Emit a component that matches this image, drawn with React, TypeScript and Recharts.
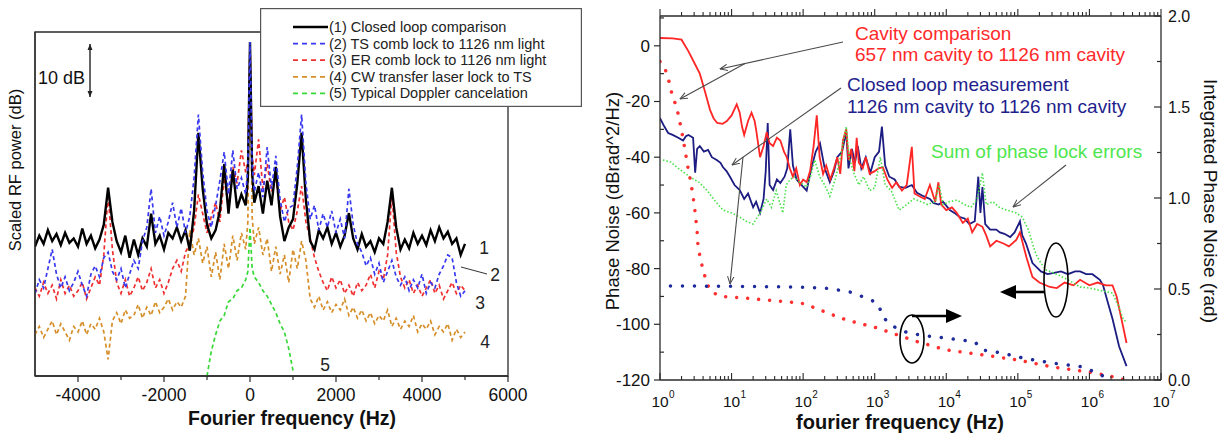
import React from "react";
import { LineChart, Line, XAxis, YAxis, Legend, Label, ReferenceArea } from "recharts";

const FONT = '"Liberation Sans", Arial, Helvetica, sans-serif';
const AXIS = "#2b2b2b";

// ---------- left panel: RF beat spectra (relative dB) ----------
const beatFreq = [
  -5000, -4900, -4800, -4700, -4600, -4500, -4400, -4300, -4200, -4100,
  -4000, -3900, -3800, -3700, -3600, -3500, -3400, -3300, -3200, -3100,
  -3000, -2900, -2800, -2700, -2600, -2500, -2400, -2300, -2200, -2100,
  -2000, -1900, -1800, -1700, -1600, -1500, -1400, -1300, -1200, -1100,
  -1000, -900, -800, -700, -600, -500, -400, -300, -200, -100,
  -50, 0, 50,
  100, 200, 300, 400, 500, 600, 700, 800, 900, 1000,
  1100, 1200, 1300, 1400, 1500, 1600, 1700, 1800, 1900, 2000,
  2100, 2200, 2300, 2400, 2500, 2600, 2700, 2800, 2900, 3000,
  3100, 3200, 3300, 3400, 3500, 3600, 3700, 3800, 3900, 4000,
  4100, 4200, 4300, 4400, 4500, 4600, 4700, 4800, 4900, 5000,
];

const closedLoopDb = [
  23.5, 25.5, 24.0, 26.5, 24.5, 25.8, 23.8, 26.0, 24.2, 25.0,
  23.5, 26.8, 24.0, 25.5, 23.2, 24.8, 27.5, 34.2, 28.0, 24.5,
  22.5, 25.5, 21.5, 24.8, 22.0, 25.0, 23.5, 29.5, 24.0, 25.5,
  23.0, 26.0, 25.0, 27.0, 24.5, 26.5, 22.8, 30.0, 44.2, 34.0,
  27.5, 25.0, 26.5, 30.0, 38.5, 29.5, 37.5, 30.5, 33.0, 31.0,
  36.0, 60.7, 37.0,
  31.5, 34.5, 29.5, 35.5, 31.0, 38.0, 29.0, 24.5, 27.0, 28.5,
  35.0, 44.2, 32.0, 24.5, 23.0, 26.5, 25.0, 27.0, 24.0, 26.0,
  23.5, 25.5, 29.6, 25.0, 23.0, 25.8, 23.5, 24.5, 22.5, 25.0,
  24.0, 28.0, 34.2, 27.0, 23.0, 24.8, 23.2, 26.0, 24.0, 25.5,
  23.8, 26.5, 24.5, 27.0, 25.0, 26.2, 24.0, 25.0, 22.0, 24.0,
];

const tsCombDb = [
  15.0, 17.5, 16.0, 19.5, 23.0, 18.5, 16.0, 18.0, 15.5, 17.0,
  19.0, 16.5, 14.5, 18.5, 20.0, 18.0, 21.5, 22.5, 19.0, 17.5,
  19.5, 16.0, 18.5, 21.0, 19.5, 24.5, 27.0, 34.0, 26.0, 29.0,
  25.5, 28.0, 31.5, 27.0, 30.5, 26.0, 29.0, 36.0, 47.5, 37.0,
  30.0, 27.0, 31.0, 35.5, 40.7, 33.0, 41.0, 34.0, 36.0, 33.0,
  38.0, 60.7, 38.5,
  33.5, 37.0, 32.5, 41.6, 34.0, 40.0, 32.0, 28.0, 30.5, 31.0,
  38.0, 47.5, 35.0, 28.5, 31.0, 26.5, 29.5, 27.0, 30.0, 26.0,
  28.5, 25.0, 34.0, 27.5, 24.0, 22.5, 20.0, 21.5, 18.5, 20.5,
  17.0, 19.0, 21.0, 18.0, 16.5, 18.0, 15.5, 17.5, 16.0, 18.5,
  15.0, 17.0, 16.0, 18.5, 20.0, 22.0, 21.5, 17.0, 14.5, 15.5,
];

const erCombDb = [
  16.0, 14.5, 17.0, 15.0, 16.5, 14.0, 17.5, 15.0, 16.5, 14.5,
  15.5, 17.0, 14.0, 16.0, 18.0, 16.5, 22.0, 33.0, 23.0, 17.0,
  15.0, 17.5, 14.5, 16.0, 18.0, 15.5, 17.0, 19.5, 16.0, 17.5,
  15.0, 17.0, 19.5, 21.0, 19.0, 22.5, 24.0, 27.0, 33.0, 29.5,
  26.0, 29.0, 31.5, 28.0, 36.0, 30.5, 38.0, 35.0, 41.0, 37.0,
  39.0, 60.7, 40.0,
  36.5, 43.0, 34.0, 38.5, 33.5, 36.0, 30.0, 32.5, 28.0, 26.5,
  30.0, 34.5, 28.0, 25.0, 21.5, 19.0, 17.0, 15.5, 18.0, 16.0,
  17.5, 15.0, 16.5, 14.5, 17.0, 15.5, 16.5, 18.5, 16.0, 19.0,
  17.5, 22.0, 33.0, 22.5, 18.0, 16.0, 17.5, 15.0, 16.5, 14.5,
  16.0, 17.5, 15.0, 16.5, 14.0, 15.5, 17.0, 15.0, 16.5, 15.5,
];

const cwTransferDb = [
  7.5, 9.0, 7.0, 8.5, 10.0, 7.5, 9.5, 8.0, 6.5, 9.0,
  8.0, 10.0, 7.5, 9.5, 8.5, 10.5, 8.0, 3.0, 10.0, 11.5,
  9.5, 12.0, 10.5, 11.0, 13.0, 10.5, 12.5, 11.0, 13.5, 11.5,
  12.5, 14.0, 12.0, 13.5, 12.5, 14.5, 26.5, 22.0, 25.0, 20.5,
  23.5, 18.0, 22.5, 17.5, 24.0, 19.5, 25.5, 21.0, 26.0, 23.0,
  28.0, 60.7, 29.0,
  24.0, 27.0, 22.0, 25.0, 19.0, 23.5, 18.5, 22.0, 17.0, 23.0,
  19.5, 24.5, 21.0, 14.0, 12.5, 14.5, 12.0, 13.5, 11.5, 13.0,
  12.0, 14.0, 11.0, 12.5, 10.5, 12.0, 10.0, 11.5, 9.5, 11.0,
  10.0, 12.0, 9.0, 10.5, 8.5, 10.0, 9.0, 11.0, 8.0, 9.5,
  8.5, 10.0, 7.5, 9.0, 8.0, 9.5, 6.5, 8.5, 7.0, 8.0,
];

const dopplerFreq = [
  -1000, -900, -800, -700, -600, -500, -400, -300, -200, -100, -50, 0,
  50, 100, 200, 300, 400, 500, 600, 700, 800, 900, 1000,
];
const dopplerDb = [
  0.0, 4.5, 7.5, 10.0, 11.0, 13.5, 14.0, 15.5, 16.0, 17.5, 19.0, 27.0,
  19.5, 18.0, 17.0, 15.5, 14.5, 13.0, 11.5, 9.5, 8.0, 5.0, 1.0,
];

const beatTicks = [-4000, -3000, -2000, -1000, 0, 1000, 2000, 3000, 4000, 5000, 6000];

const beatSeries = [
  { key: "closed", name: "(1) Closed loop comparison", color: "#000000", dash: undefined, width: 2.4 },
  { key: "ts", name: "(2) TS comb lock to 1126 nm light", color: "#3838f0", dash: "4 3", width: 1.7 },
  { key: "er", name: "(3) ER comb lock to 1126 nm light", color: "#f03030", dash: "4 3", width: 1.7 },
  { key: "cw", name: "(4) CW transfer laser lock to TS", color: "#d68f2a", dash: "4 3", width: 1.7 },
  { key: "doppler", name: "(5) Typical Doppler cancelation", color: "#38d838", dash: "4 3", width: 1.7 },
];

// ---------- right panel: phase noise vs fourier frequency ----------
const cavityFreq = [
  1, 1.5, 2, 2.5, 3, 3.6, 4.2, 5, 5.6, 6.3,
  7.5, 8.6, 10, 11.8, 13, 14, 15, 17, 19, 21,
  22, 25, 28, 31, 34, 38, 43, 48, 54, 59,
  65, 72, 80, 90, 100, 112, 125, 140, 155, 170,
  190, 210, 240, 270, 300, 330, 360, 400, 430, 470,
  520, 560, 600, 680, 750, 850, 1000, 1130, 1300, 1500,
  1750, 2000, 2400, 2800, 3300, 3600, 4200, 5000, 5900, 7000,
  7760, 8500, 1e4, 1.2e4, 1.4e4, 1.7e4, 2e4, 2.3e4, 2.7e4, 3.2e4,
  3.6e4, 4.1e4, 5e4, 6.3e4, 7.5e4, 9.5e4, 1.07e5, 1.2e5, 1.32e5, 1.6e5,
  2e5, 2.8e5, 3.5e5, 4.5e5, 6e5, 7.4e5, 1e6, 1.3e6, 1.7e6, 2.1e6,
  2.4e6, 2.8e6, 3.3e6,
];
const cavityDb = [
  2.8, 2.7, 2.2, -2, -6, -10, -16, -23, -26, -27.7,
  -28, -27, -25, -21, -24, -29, -32, -27, -24, -27,
  -30, -40, -36, -31, -35, -36, -33, -34, -38, -40,
  -44, -47, -44, -50, -48, -49, -45, -36, -25, -40,
  -46, -43, -48, -44, -40, -46, -34, -30, -41, -37,
  -45, -33, -42, -44, -40, -46, -45, -44, -43.6, -48,
  -51, -49, -52, -50, -36.3, -53, -54, -55, -50, -56,
  -49, -57, -59, -58, -60, -63.6, -62, -67, -64, -65,
  -68, -72, -70, -71, -72, -69.7, -67, -72, -76, -83,
  -85, -86.6, -87, -85, -86, -84, -86, -85, -86, -86,
  -90, -98, -106.7,
];

const closedFreq = [
  1, 1.15, 1.3, 1.5, 1.8, 2.1, 2.3, 2.5, 2.9, 3.1,
  3.3, 3.6, 4.1, 4.7, 5.3, 6.2, 7, 7.6, 8.5, 9.5,
  11, 13, 15, 17, 20, 22, 25, 28, 30, 32,
  34, 38, 43, 48, 55, 60, 66, 72, 81, 95,
  112, 130, 150, 172, 200, 236, 270, 300, 350, 400,
  430, 480, 530, 580, 650, 750, 870, 1000, 1150, 1260,
  1400, 1600, 1900, 2200, 2700, 3300, 3900, 4800, 5900, 6600,
  7800, 9000, 1.12e4, 1.3e4, 1.55e4, 1.8e4, 2.1e4, 2.5e4, 2.8e4, 3e4,
  3.2e4, 3.5e4, 4.1e4, 5e4, 5.6e4, 6.5e4, 7.8e4, 9e4, 1.07e5, 1.15e5,
  1.3e5, 1.6e5, 2.1e5, 2.6e5, 3.2e5, 4e5, 5e5, 6.3e5, 7.4e5, 9e5,
  1.1e6, 1.4e6, 1.55e6, 1.8e6, 2.1e6, 2.6e6, 3.3e6,
];
const closedDb = [
  -26, -29, -31.3, -32, -33, -34, -32.5, -32, -33, -45.6,
  -37, -36, -38, -37.4, -40, -41, -42, -43.6, -45, -47,
  -50, -51.8, -55, -53, -58, -56, -60, -55, -45, -27.7,
  -50, -51.8, -48, -49.3, -47, -44, -30, -43, -48, -50,
  -52, -44, -38, -35, -44, -49, -45, -40, -38, -31,
  -44, -37, -42, -36, -44, -40, -45.6, -40, -38, -29,
  -43, -47, -48, -50.7, -51, -50, -52.8, -54, -55, -56.4,
  -57, -56, -59, -60, -61.5, -62, -64, -63, -47, -60,
  -50.7, -64, -66, -66, -67, -67.5, -68.7, -67, -63, -68,
  -71, -78, -81, -82, -81.5, -81, -82, -81, -81, -82,
  -82, -84, -86, -92, -98, -108, -115,
];

const sumFreq = [
  1.1, 1.4, 1.8, 2.6, 3.5, 4.5, 6, 7.6, 10, 13,
  16, 20, 25, 31, 36, 42, 52, 58, 66, 75,
  90, 112, 130, 145, 170, 200, 236, 280, 320, 360,
  400, 440, 500, 600, 700, 850, 1000, 1200, 1400, 1700,
  2200, 2800, 3500, 4500, 5500, 7000, 8000, 9000, 1.1e4, 1.4e4,
  1.8e4, 2.2e4, 2.7e4, 3.2e4, 3.6e4, 4.5e4, 5.5e4, 7e4, 9.5e4, 1.15e5,
  1.4e5, 1.6e5, 1.8e5, 2.1e5, 2.5e5, 3.5e5, 5e5, 7.4e5, 1e6, 1.5e6,
  2.1e6, 2.6e6, 3e6, 3.3e6,
];
const sumDb = [
  -41, -41.7, -44, -47, -49, -51.8, -56, -59, -60, -61.5,
  -63, -64, -60, -55, -58, -52, -60, -50, -48, -47,
  -49, -50.7, -46, -41, -47, -50, -54, -48, -42, -35,
  -29, -40, -45, -50, -47, -52, -51, -40, -50, -52,
  -59, -57, -55, -56, -57, -56, -50, -57, -56, -55.4,
  -57, -58, -55, -45.6, -57, -56, -58, -59, -60, -61.5,
  -66, -71, -75, -78, -80.5, -82, -84, -86.6, -87, -88,
  -88.8, -94, -98.5, -99,
];

const cavityIntFreq = [
  1, 1.15, 1.3, 1.45, 1.6, 1.8, 2, 2.2, 2.4, 2.65,
  2.9, 3.1, 3.3, 3.4, 3.8, 4.3, 5, 6.9, 10, 16,
  30, 60, 100, 160, 250, 400, 700, 1000, 2000, 4000,
  1e4, 3e4, 1e5, 3e5, 1e6, 2e6, 3.2e6,
];
const cavityIntRad = [
  1.75, 1.72, 1.66, 1.58, 1.53, 1.46, 1.37, 1.28, 1.19, 1.1,
  1.01, 0.92, 0.82, 0.73, 0.64, 0.56, 0.49, 0.46, 0.455, 0.45,
  0.44, 0.43, 0.42, 0.39, 0.36, 0.33, 0.305, 0.29, 0.25, 0.21,
  0.165, 0.14, 0.11, 0.072, 0.044, 0.02, 0.0,
];

const closedIntFreq = [
  1.4, 3, 10, 30, 100, 200, 300, 500, 700, 1000,
  1150, 1250, 1500, 2000, 3000, 6000, 1e4, 2.5e4, 3.2e4, 6e4,
  1.2e5, 3e5, 8e5, 1.25e6, 2e6,
];
const closedIntRad = [
  0.516, 0.516, 0.515, 0.513, 0.51, 0.505, 0.495, 0.48, 0.455, 0.43,
  0.41, 0.357, 0.32, 0.285, 0.257, 0.24, 0.23, 0.21, 0.165, 0.148,
  0.12, 0.093, 0.072, 0.04, 0.0,
];

const decadeTicks = [1, 10, 100, 1e3, 1e4, 1e5, 1e6, 1e7];
const logTicks = decadeTicks
  .slice(0, -1)
  .flatMap((d) => [1, 2, 3, 4, 5, 6, 7, 8, 9].map((m) => m * d))
  .concat([1e7]);
const dbTicks = [-120, -110, -100, -90, -80, -70, -60, -50, -40, -30, -20, -10, 0, 10];
const radTicks = [0, 0.25, 0.5, 0.75, 1, 1.25, 1.5, 1.75, 2];

const beatRows = beatFreq.map((f, i) => ({
  f,
  closed: closedLoopDb[i],
  ts: tsCombDb[i],
  er: erCombDb[i],
  cw: cwTransferDb[i],
}));
const dopplerRows = dopplerFreq.map((f, i) => ({ f, doppler: dopplerDb[i] }));

const toRows = (fs: number[], vs: number[]) => fs.map((f, i) => ({ f, v: vs[i] }));
const cavityRows = toRows(cavityFreq, cavityDb);
const closedRows = toRows(closedFreq, closedDb);
const sumRows = toRows(sumFreq, sumDb);
const cavityIntRows = toRows(cavityIntFreq, cavityIntRad);
const closedIntRows = toRows(closedIntFreq, closedIntRad);

const isDecade = (v: number) => {
  const p = Math.log10(v);
  return Math.abs(p - Math.round(p)) < 1e-9;
};

function BeatTick(props: any) {
  const { x, y, payload } = props;
  const v = payload.value;
  const major = v % 2000 === 0;
  return (
    <g>
      <line x1={x} x2={x} y1={y} y2={y + (major ? 6 : 4)} stroke={AXIS} strokeWidth={1.2} />
      {major && (
        <text x={x} y={y + 25} textAnchor="middle" fontSize={17.5} fontFamily={FONT} fill="#111">
          {v}
        </text>
      )}
    </g>
  );
}

function LogTickBottom(props: any) {
  const { x, y, payload } = props;
  const major = isDecade(payload.value);
  const e = Math.round(Math.log10(payload.value));
  return (
    <g>
      <line x1={x} x2={x} y1={y} y2={y - (major ? 7 : 4)} stroke={AXIS} strokeWidth={1.1} />
      {major && (
        <g fontFamily={FONT} fill="#111">
          <text x={x} y={y + 27} textAnchor="middle" fontSize={15.5}>
            10
          </text>
          <text x={x + 9} y={y + 18} fontSize={10}>
            {e}
          </text>
        </g>
      )}
    </g>
  );
}

function LogTickTop(props: any) {
  const { x, y, payload } = props;
  const major = isDecade(payload.value);
  return <line x1={x} x2={x} y1={y} y2={y - (major ? 7 : 4)} stroke={AXIS} strokeWidth={1.1} />;
}

function DbTick(props: any) {
  const { x, y, payload } = props;
  const v = payload.value;
  const major = v % 20 === 0;
  return (
    <g>
      {major ? (
        <line x1={x - 6} x2={x} y1={y} y2={y} stroke={AXIS} strokeWidth={1.2} />
      ) : (
        <line x1={x} x2={x + 4} y1={y} y2={y} stroke={AXIS} strokeWidth={1.2} />
      )}
      {major && (
        <text x={x - 10} y={y + 6} textAnchor="end" fontSize={17} fontFamily={FONT} fill="#111">
          {v}
        </text>
      )}
    </g>
  );
}

function RadTick(props: any) {
  const { x, y, payload } = props;
  const v = payload.value;
  const major = Math.abs(v * 2 - Math.round(v * 2)) < 1e-9;
  return (
    <g>
      <line x1={x - (major ? 7 : 4)} x2={x} y1={y} y2={y} stroke={AXIS} strokeWidth={1.2} />
      {major && (
        <text x={x + 7} y={y + 6} fontSize={16} fontFamily={FONT} fill="#111">
          {v.toFixed(1)}
        </text>
      )}
    </g>
  );
}

// axis caption placed relative to the axis box
const caption =
  (text: string, dx: number, dy: number, opts: { rotate?: number; size: number; bold?: boolean }) =>
  (props: any) => {
    const vb = props.viewBox || { x: 0, y: 0 };
    const cx = vb.x + dx;
    const cy = vb.y + dy;
    return (
      <text
        x={cx}
        y={cy}
        textAnchor="middle"
        dominantBaseline={opts.rotate ? "central" : "auto"}
        transform={opts.rotate ? `rotate(${opts.rotate} ${cx} ${cy})` : undefined}
        fontSize={opts.size}
        fontWeight={opts.bold ? "bold" : "normal"}
        fontFamily={FONT}
        fill="#111"
      >
        {text}
      </text>
    );
  };

function BeatLegend(props: any) {
  const keys = (props.payload || []).map((p: any) => p.dataKey);
  const shown = keys.length ? beatSeries.filter((s) => keys.includes(s.key)) : beatSeries;
  return (
    <svg width={322} height={99} style={{ display: "block" }}>
      <rect x={0.6} y={0.6} width={320.8} height={97.8} fill="#fff" stroke="#555" strokeWidth={1.2} />
      {shown.map((s, i) => {
        const cy = 19 + i * 16.6;
        return (
          <g key={s.key}>
            <line x1={33} x2={68} y1={cy} y2={cy} stroke={s.color} strokeWidth={s.width} strokeDasharray={s.dash ? "5 4" : undefined} />
            <text x={69} y={cy + 5} fontSize={14.5} fontFamily={FONT} fill="#222">
              {s.name}
            </text>
          </g>
        );
      })}
    </svg>
  );
}

function BeatChart() {
  const byKey = Object.fromEntries(beatSeries.map((s) => [s.key, s]));
  const order = ["cw", "er", "closed", "ts"];
  return (
    <LineChart width={600} height={436} data={beatRows} margin={{ top: 32, right: 92, bottom: 0, left: 0 }}>
      <ReferenceArea x1={-5000} x2={6000} y1={0} y2={62.5} fill="none" stroke={AXIS} strokeWidth={1.3} />
      <XAxis
        dataKey="f"
        type="number"
        domain={[-5000, 6000]}
        allowDataOverflow
        ticks={beatTicks}
        interval={0}
        tick={(p: any) => <BeatTick {...p} />}
        tickLine={false}
        tickSize={0}
        tickMargin={0}
        height={60}
        axisLine={{ stroke: AXIS, strokeWidth: 1.3 }}
      >
        <Label content={caption("Fourier frequency (Hz)", 257, 49, { size: 19.5, bold: true })} />
      </XAxis>
      <YAxis domain={[0, 62.5]} allowDataOverflow tick={false} tickLine={false} width={35} axisLine={{ stroke: AXIS, strokeWidth: 1.3 }}>
        <Label content={caption("Scaled RF power (dB)", 15, 138, { size: 16.5, rotate: -90 })} />
      </YAxis>
      {order.map((k) => (
        <Line
          key={k}
          dataKey={k}
          name={byKey[k].name}
          stroke={byKey[k].color}
          strokeWidth={byKey[k].width}
          strokeDasharray={byKey[k].dash}
          dot={false}
          activeDot={false}
          type="linear"
          isAnimationActive={false}
        />
      ))}
      <Line
        data={dopplerRows}
        dataKey="doppler"
        name={byKey.doppler.name}
        stroke={byKey.doppler.color}
        strokeWidth={byKey.doppler.width}
        strokeDasharray={byKey.doppler.dash}
        dot={false}
        activeDot={false}
        type="linear"
        isAnimationActive={false}
      />
      <Legend
        layout="vertical"
        align="center"
        verticalAlign="middle"
        wrapperStyle={{ left: 260, top: 8, width: 322, height: 99 }}
        content={(p: any) => <BeatLegend {...p} />}
      />
    </LineChart>
  );
}

function NoiseChart() {
  const axisLine = { stroke: AXIS, strokeWidth: 1.3 };
  const lineCommon = { dot: false, activeDot: false, type: "linear" as const, isAnimationActive: false, xAxisId: "b", dataKey: "v" };
  return (
    <LineChart width={625} height={436} margin={{ top: 6, right: 0, bottom: 0, left: 0 }}>
      <XAxis
        xAxisId="b"
        dataKey="f"
        type="number"
        scale="log"
        domain={[1, 1e7]}
        allowDataOverflow
        ticks={logTicks}
        interval={0}
        tick={(p: any) => <LogTickBottom {...p} />}
        tickLine={false}
        tickSize={0}
        tickMargin={0}
        height={56}
        axisLine={axisLine}
      >
        <Label content={caption("fourier frequency (Hz)", 240, 49, { size: 20, bold: true })} />
      </XAxis>
      <XAxis
        xAxisId="t"
        orientation="top"
        dataKey="f"
        type="number"
        scale="log"
        domain={[1, 1e7]}
        allowDataOverflow
        ticks={logTicks}
        interval={0}
        tick={(p: any) => <LogTickTop {...p} />}
        tickLine={false}
        tickSize={0}
        tickMargin={0}
        height={10}
        axisLine={axisLine}
      />
      <YAxis
        yAxisId="L"
        domain={[-120, 10.7]}
        allowDataOverflow
        ticks={dbTicks}
        interval={0}
        tick={(p: any) => <DbTick {...p} />}
        tickLine={false}
        tickSize={0}
        tickMargin={0}
        width={60}
        axisLine={axisLine}
      >
        <Label content={caption("Phase Noise (dBrad^2/Hz)", 12, 185, { size: 18.5, rotate: -90 })} />
      </YAxis>
      <YAxis
        yAxisId="R"
        orientation="right"
        domain={[0, 2]}
        allowDataOverflow
        ticks={radTicks}
        interval={0}
        tick={(p: any) => <RadTick {...p} />}
        tickLine={false}
        tickSize={0}
        tickMargin={0}
        width={64}
        axisLine={axisLine}
      >
        <Label content={caption("Integrated Phase Noise (rad)", 49, 185, { size: 19, rotate: 90 })} />
      </YAxis>
      <Line {...lineCommon} yAxisId="L" data={closedRows} stroke="#1c1c82" strokeWidth={1.8} />
      <Line {...lineCommon} yAxisId="L" data={cavityRows} stroke="#ff2626" strokeWidth={1.8} />
      <Line {...lineCommon} yAxisId="L" data={sumRows} stroke="#48e048" strokeWidth={1.6} strokeDasharray="1.5 2" />
      <Line {...lineCommon} yAxisId="R" data={cavityIntRows} stroke="#ff3030" strokeWidth={3.5} strokeDasharray="0.01 11" strokeLinecap="round" />
      <Line {...lineCommon} yAxisId="R" data={closedIntRows} stroke="#1e2a9a" strokeWidth={3.5} strokeDasharray="0.01 12" strokeLinecap="round" />
    </LineChart>
  );
}

function Annotations() {
  const gray = "#4a4a4a";
  return (
    <svg width={1225} height={436} style={{ position: "absolute", left: 0, top: 0, pointerEvents: "none" }} fontFamily={FONT}>
      <defs>
        <marker id="thin" viewBox="0 0 8 8" refX="7.5" refY="4" markerWidth="8" markerHeight="8" markerUnits="userSpaceOnUse" orient="auto">
          <path d="M0,0.8 L7.5,4 L0,7.2" fill="none" stroke={gray} strokeWidth="1" />
        </marker>
        <marker id="tiny" viewBox="0 0 6 6" refX="6" refY="3" markerWidth="6" markerHeight="6" markerUnits="userSpaceOnUse" orient="auto-start-reverse">
          <path d="M0,0.5 L6,3 L0,5.5 Z" fill="#222" />
        </marker>
      </defs>

      {/* left panel */}
      <line x1={90} y1={44} x2={90} y2={97} stroke="#222" strokeWidth={1.4} markerStart="url(#tiny)" markerEnd="url(#tiny)" />
      <text x={38} y={83.5} fontSize={18} fill="#111">10 dB</text>
      <text x={484} y={254} fontSize={17.5} textAnchor="middle" fill="#222">1</text>
      <text x={495} y={281} fontSize={17.5} textAnchor="middle" fill="#222">2</text>
      <line x1={461} y1={267} x2={487} y2={274} stroke="#333" strokeWidth={1} />
      <text x={480} y={309} fontSize={17.5} textAnchor="middle" fill="#222">3</text>
      <text x={485} y={348} fontSize={17.5} textAnchor="middle" fill="#222">4</text>
      <text x={325} y={371} fontSize={17.5} textAnchor="middle" fill="#222">5</text>

      {/* right panel */}
      <text x={855} y={40} fontSize={19} fill="#ff2a2a">Cavity comparison</text>
      <text x={855} y={61} fontSize={19} fill="#ff2a2a">657 nm cavity to 1126 nm cavity</text>
      <text x={847} y={91} fontSize={19} fill="#1e1e8c">Closed loop measurement</text>
      <text x={847} y={112.5} fontSize={19} fill="#1e1e8c">1126 nm cavity to 1126 nm cavity</text>
      <text x={931} y={158} fontSize={19} fill="#4ee64e">Sum of phase lock errors</text>

      <line x1={843} y1={42} x2={720} y2={69} stroke={gray} strokeWidth={1.1} markerEnd="url(#thin)" />
      <line x1={745} y1={63.5} x2={680} y2={99} stroke={gray} strokeWidth={1.1} markerEnd="url(#thin)" />
      <line x1={841} y1={88} x2={732} y2={165} stroke={gray} strokeWidth={1.1} markerEnd="url(#thin)" />
      <line x1={743} y1={157} x2={730} y2={284} stroke={gray} strokeWidth={1.1} markerEnd="url(#thin)" />
      <line x1={1066} y1={165} x2={1013} y2={207} stroke={gray} strokeWidth={1.1} markerEnd="url(#thin)" />

      <ellipse cx={1056} cy={280} rx={12} ry={37} fill="none" stroke="#000" strokeWidth={1.6} />
      <line x1={1044} y1={292} x2={1012} y2={292} stroke="#000" strokeWidth={2.6} />
      <polygon points="1000,292 1016,285 1016,299" fill="#000" />

      <ellipse cx={912} cy={339} rx={12} ry={24} fill="none" stroke="#000" strokeWidth={1.6} />
      <line x1={912} y1={316} x2={948} y2={316} stroke="#000" strokeWidth={2.6} />
      <polygon points="962,316 946,309 946,323" fill="#000" />
    </svg>
  );
}

export default function App() {
  return (
    <div style={{ position: "absolute", left: 0, top: 0, width: 1225, height: 436, background: "#fff", fontFamily: FONT, overflow: "hidden" }}>
      <div style={{ position: "absolute", left: 0, top: 0 }}>
        <BeatChart />
      </div>
      <div style={{ position: "absolute", left: 600, top: 0 }}>
        <NoiseChart />
      </div>
      <Annotations />
    </div>
  );
}
